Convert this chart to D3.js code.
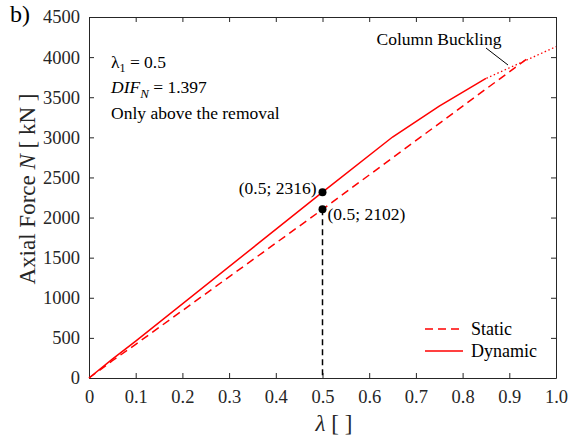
<!DOCTYPE html>
<html>
<head>
<meta charset="utf-8">
<script src="https://cdn.jsdelivr.net/npm/d3@7"></script>
<style>
  body { margin: 0; background: #fff; }
  svg text { font-family: "Liberation Serif", serif; }
</style>
</head>
<body>
<div class="svg-container"></div>
<script>
// lambda vs axial force N [kN]
const staticLambda = [0, 0.05, 0.1, 0.5, 0.944];
const staticN = [0, 215, 420, 2102, 4005];
const dynamicLambda = [0, 0.05, 0.1, 0.5, 0.65, 0.75, 0.85];
const dynamicN = [0, 235, 460, 2316, 3004, 3390, 3736];
const bucklingLambda = [0.851, 1.0];
const bucklingN = [3736, 4130];
const markedLambda = [0.5, 0.5];
const markedN = [2316, 2102];
const markedLabels = ["(0.5; 2316)", "(0.5; 2102)"];
const xTicks = [0, 0.1, 0.2, 0.3, 0.4, 0.5, 0.6, 0.7, 0.8, 0.9, 1.0];
const yTicks = [0, 500, 1000, 1500, 2000, 2500, 3000, 3500, 4000, 4500];

const width = 573;
const height = 439;
const mLeft = 89, mRight = 556, mTop = 17, mBottom = 378;
const serif = '"Liberation Serif", serif';

const svg = d3.select(".svg-container").append("svg")
    .attr("width", width)
    .attr("height", height)
    .attr("font-family", serif);

const xScale = d3.scaleLinear().domain([0, 1]).range([mLeft, mRight]);
const yScale = d3.scaleLinear().domain([0, 4500]).range([mBottom, mTop]);

const zip = (xs, ys) => xs.map((x, i) => [x, ys[i]]);
const line = d3.line().x(d => xScale(d[0])).y(d => yScale(d[1]));

// ticks inside on all four sides
const tickLen = 5;
svg.append("g")
    .attr("transform", "translate(0," + mBottom + ")")
    .call(d3.axisBottom(xScale).tickValues(xTicks).tickSizeInner(-tickLen).tickSizeOuter(0)
        .tickFormat(d => d === 0 ? "0" : d3.format(".1f")(d)).tickPadding(12));
svg.append("g")
    .attr("transform", "translate(0," + mTop + ")")
    .call(d3.axisTop(xScale).tickValues(xTicks).tickSizeInner(-tickLen).tickSizeOuter(0).tickFormat(""));
svg.append("g")
    .attr("transform", "translate(" + mLeft + ",0)")
    .call(d3.axisLeft(yScale).tickValues(yTicks).tickSizeInner(-tickLen).tickSizeOuter(0)
        .tickFormat(d3.format("d")).tickPadding(9));
svg.append("g")
    .attr("transform", "translate(" + mRight + ",0)")
    .call(d3.axisRight(yScale).tickValues(yTicks).tickSizeInner(-tickLen).tickSizeOuter(0).tickFormat(""));
svg.selectAll("g").attr("font-family", serif);
svg.selectAll(".domain, .tick line").attr("stroke", "#262626");
svg.selectAll(".tick text").attr("fill", "#262626").attr("font-size", 18.5);

// curves
svg.append("path")
    .attr("d", line(zip(bucklingLambda, bucklingN)))
    .attr("fill", "none").attr("stroke", "#ff0000").attr("stroke-width", 1.3)
    .attr("stroke-dasharray", "1.5,2.5");
svg.append("path")
    .attr("d", line(zip(staticLambda, staticN)))
    .attr("fill", "none").attr("stroke", "#ff0000").attr("stroke-width", 1.5)
    .attr("stroke-dasharray", "8,5");
svg.append("path")
    .attr("d", line(zip(dynamicLambda, dynamicN)))
    .attr("fill", "none").attr("stroke", "#ff0000").attr("stroke-width", 1.5);

// vertical guide
svg.append("line")
    .attr("x1", xScale(markedLambda[1])).attr("x2", xScale(markedLambda[1]))
    .attr("y1", yScale(markedN[1])).attr("y2", yScale(0))
    .attr("stroke", "#000").attr("stroke-width", 1.5).attr("stroke-dasharray", "6,4");

svg.selectAll(".pt")
    .data(zip(markedLambda, markedN))
    .enter().append("circle")
    .attr("cx", d => xScale(d[0])).attr("cy", d => yScale(d[1]))
    .attr("r", 4).attr("fill", "#000");

svg.append("text").attr("x", xScale(markedLambda[0]) - 6).attr("y", yScale(markedN[0]) + 2)
    .attr("text-anchor", "end").attr("font-size", 17.5).attr("fill", "#000").text(markedLabels[0]);
svg.append("text").attr("x", xScale(markedLambda[1]) + 5).attr("y", yScale(markedN[1]) + 11)
    .attr("font-size", 17.5).attr("fill", "#000").text(markedLabels[1]);

// column buckling annotation
svg.append("text").attr("x", 439).attr("y", 45).attr("text-anchor", "middle")
    .attr("font-size", 17.5).attr("fill", "#000").text("Column Buckling");
svg.append("line").attr("x1", 486).attr("y1", 48).attr("x2", 508).attr("y2", 65)
    .attr("stroke", "#000").attr("stroke-width", 1);

// top-left notes
const note = svg.append("g").attr("font-size", 17.5).attr("fill", "#000");
const t1 = note.append("text").attr("x", 111).attr("y", 68);
t1.append("tspan").text("λ");
t1.append("tspan").attr("font-size", 12).attr("dy", 4).text("1");
t1.append("tspan").attr("dy", -4).text(" = 0.5");
const t2 = note.append("text").attr("x", 111).attr("y", 93);
t2.append("tspan").attr("font-style", "italic").text("DIF");
t2.append("tspan").attr("font-style", "italic").attr("font-size", 13).attr("dy", 5).text("N");
t2.append("tspan").attr("dy", -5).text(" = 1.397");
note.append("text").attr("x", 111).attr("y", 119).text("Only above the removal");

// legend
const legend = svg.append("g").attr("font-size", 18).attr("fill", "#000");
legend.append("line").attr("x1", 425).attr("x2", 463).attr("y1", 329).attr("y2", 329)
    .attr("stroke", "#ff0000").attr("stroke-width", 1.5).attr("stroke-dasharray", "8,5");
legend.append("text").attr("x", 471).attr("y", 335).text("Static");
legend.append("line").attr("x1", 425).attr("x2", 463).attr("y1", 351).attr("y2", 351)
    .attr("stroke", "#ff0000").attr("stroke-width", 1.5);
legend.append("text").attr("x", 471).attr("y", 357).text("Dynamic");

// axis titles
const yl = svg.append("text").attr("transform", "translate(35,189) rotate(-90)")
    .attr("text-anchor", "middle").attr("font-size", 23).attr("fill", "#262626");
yl.append("tspan").text("Axial Force ");
yl.append("tspan").attr("font-style", "italic").text("N");
yl.append("tspan").text(" [ kN ]");
const xl = svg.append("text").attr("x", 334).attr("y", 431)
    .attr("text-anchor", "middle").attr("font-size", 23).attr("fill", "#262626");
xl.append("tspan").attr("font-style", "italic").text("λ");
xl.append("tspan").text(" [ ]");

svg.append("text").attr("x", 10).attr("y", 22).attr("font-size", 24).attr("fill", "#000").text("b)");
</script>
</body>
</html>
